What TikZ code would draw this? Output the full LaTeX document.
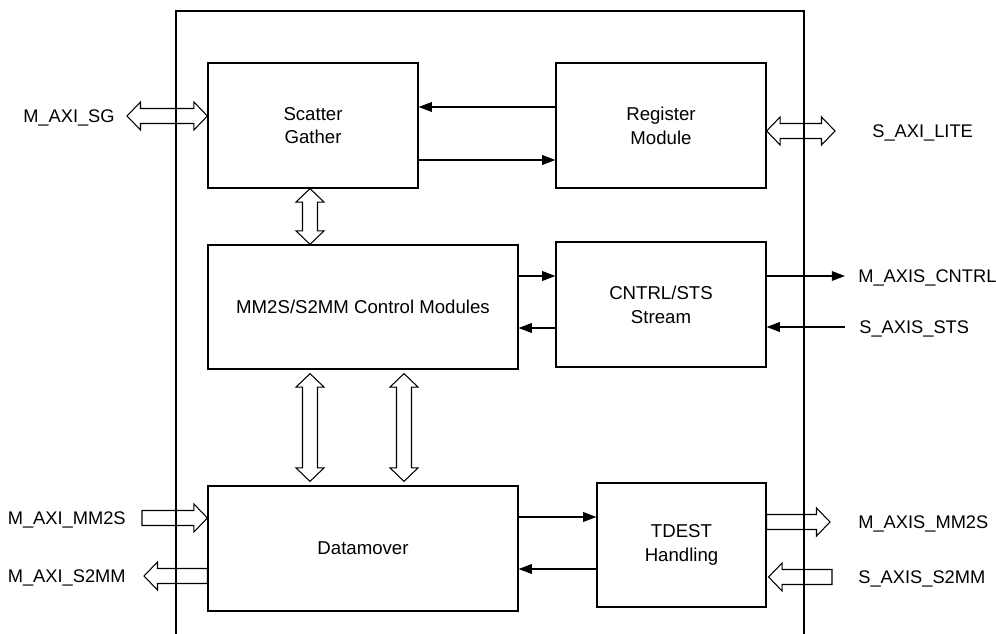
\documentclass[tikz,border=0pt]{standalone}
\usepackage{fontspec}
\setmainfont{Liberation Sans}
\usetikzlibrary{arrows.meta,calc,positioning}

\tikzset{
  blk/.style={draw,line width=0.7pt,minimum width=4.2cm,minimum height=2.5cm,
    align=center,inner sep=0pt,font=\fontsize{10.6}{13.5}\selectfont},
  lbl/.style={inner sep=0pt,text depth=0pt,font=\fontsize{10.4}{12}\selectfont},
  sarr/.style={-{Triangle[length=7.5pt,width=5.5pt]},line width=0.7pt},
  fat/.style={line width=0.6pt,line join=miter},
}

% hollow arrow from #1, head at #2
\newcommand{\fatone}[2]{%
  \coordinate (fh) at ($(#2)!0.27cm!(#1)$);
  \draw[fat] ($(#1)!0.15cm!90:(#2)$) -- ($(fh)!0.15cm!90:(#2)$) -- ($(fh)!0.28cm!90:(#2)$) -- (#2)
    -- ($(fh)!0.28cm!-90:(#2)$) -- ($(fh)!0.15cm!-90:(#2)$) -- ($(#1)!0.15cm!-90:(#2)$) -- cycle;
}
% hollow arrow with heads at both ends
\newcommand{\fattwo}[2]{%
  \coordinate (fh) at ($(#2)!0.27cm!(#1)$);
  \coordinate (ft) at ($(#1)!0.27cm!(#2)$);
  \draw[fat] (#1) -- ($(ft)!0.28cm!90:(#2)$) -- ($(ft)!0.15cm!90:(#2)$) -- ($(fh)!0.15cm!90:(#2)$)
    -- ($(fh)!0.28cm!90:(#2)$) -- (#2) -- ($(fh)!0.28cm!-90:(#2)$) -- ($(fh)!0.15cm!-90:(#2)$)
    -- ($(ft)!0.15cm!-90:(#2)$) -- ($(ft)!0.28cm!-90:(#2)$) -- cycle;
}

\begin{document}
\begin{tikzpicture}[x=0.02cm,y=-0.02cm]
  \useasboundingbox (0,0) rectangle (996,634);
  % core frame
  \draw[line width=0.7pt] (176,634) -- (176,11) -- (804,11) -- (804,634);

  % blocks
  \node[blk] (sg) at (313,125.5) {Scatter\\Gather};
  \node[blk] (reg) at (661,125.5) {Register\\Module};
  \node[blk,minimum width=6.2cm,minimum height=2.48cm] (ctl) at (363,307) {MM2S/S2MM Control Modules};
  \node[blk] (sts) at (661,304.5) {CNTRL/STS\\Stream};
  \node[blk,minimum width=6.2cm] (dm) at (363,548.5) {Datamover};
  \node[blk,minimum width=3.38cm,minimum height=2.48cm] (td) at (681.5,545) {TDEST\\Handling};

  % internal control paths
  \coordinate (r1) at ($(reg.west)+(0,-18.5)$);
  \draw[sarr] (r1) -- (r1 -| sg.east);
  \coordinate (s1) at ($(sg.east)+(0,34.5)$);
  \draw[sarr] (s1) -- (s1 -| reg.west);
  \coordinate (c1) at ($(ctl.east)+(0,-31)$);
  \draw[sarr] (c1) -- (c1 -| sts.west);
  \coordinate (c2) at ($(sts.west)+(0,23.5)$);
  \draw[sarr] (c2) -- (c2 -| ctl.east);
  \coordinate (d1) at ($(dm.east)+(0,-31.5)$);
  \draw[sarr] (d1) -- (d1 -| td.west);
  \coordinate (d2) at ($(td.west)+(0,24)$);
  \draw[sarr] (d2) -- (d2 -| dm.east);

  % stream control ports
  \coordinate (cntrl) at (845,276);
  \draw[sarr] (sts.east |- cntrl) -- (cntrl);
  \coordinate (stsin) at (845,327);
  \draw[sarr] (stsin) -- (stsin -| sts.east);

  % bus interfaces
  \coordinate (sgin) at (127,116);
  \coordinate (sgw) at (sg.west |- sgin);
  \fattwo{sgin}{sgw}
  \coordinate (lite) at (835,131);
  \coordinate (rege) at (reg.east |- lite);
  \fattwo{rege}{lite}
  \coordinate (v1a) at ($(sg.south)+(-3,0)$);
  \coordinate (v1b) at (v1a |- ctl.north);
  \fattwo{v1a}{v1b}
  \coordinate (v2a) at ($(ctl.south)+(-53,4)$);
  \coordinate (v2b) at ($(dm.north)+(-53,-4)$);
  \fattwo{v2a}{v2b}
  \coordinate (v3a) at ($(ctl.south)+(41,4)$);
  \coordinate (v3b) at ($(dm.north)+(41,-4)$);
  \fattwo{v3a}{v3b}
  \coordinate (mm2s) at (142,518);
  \coordinate (dmw1) at (mm2s -| dm.west);
  \fatone{mm2s}{dmw1}
  \coordinate (s2mm) at (144,576);
  \coordinate (dmw2) at (s2mm -| dm.west);
  \fatone{dmw2}{s2mm}
  \coordinate (axmm) at (830,522);
  \coordinate (tde1) at (axmm -| td.east);
  \fatone{tde1}{axmm}
  \coordinate (axs2) at (832,577);
  \coordinate (tde2) at ($(axs2 -| td.east)+(2,0)$);
  \fatone{axs2}{tde2}

  % port names
  \node[lbl,left=0.24cm of sgin] (nsg) {M\_AXI\_SG};
  \node[lbl,right=0.74cm of lite] (nlite) {S\_AXI\_LITE};
  \node[lbl,right=0.26cm of cntrl] (ncntrl) {M\_AXIS\_CNTRL};
  \node[lbl,right=0.28cm of stsin] (nsts) {S\_AXIS\_STS};
  \node[lbl,left=0.32cm of mm2s] (nmm2s) {M\_AXI\_MM2S};
  \node[lbl,left=0.36cm of s2mm] (ns2mm) {M\_AXI\_S2MM};
  \node[lbl,right=0.56cm of axmm] (naxmm) {M\_AXIS\_MM2S};
  \node[lbl,right=0.52cm of axs2] (naxs2) {S\_AXIS\_S2MM};
\end{tikzpicture}
\end{document}
